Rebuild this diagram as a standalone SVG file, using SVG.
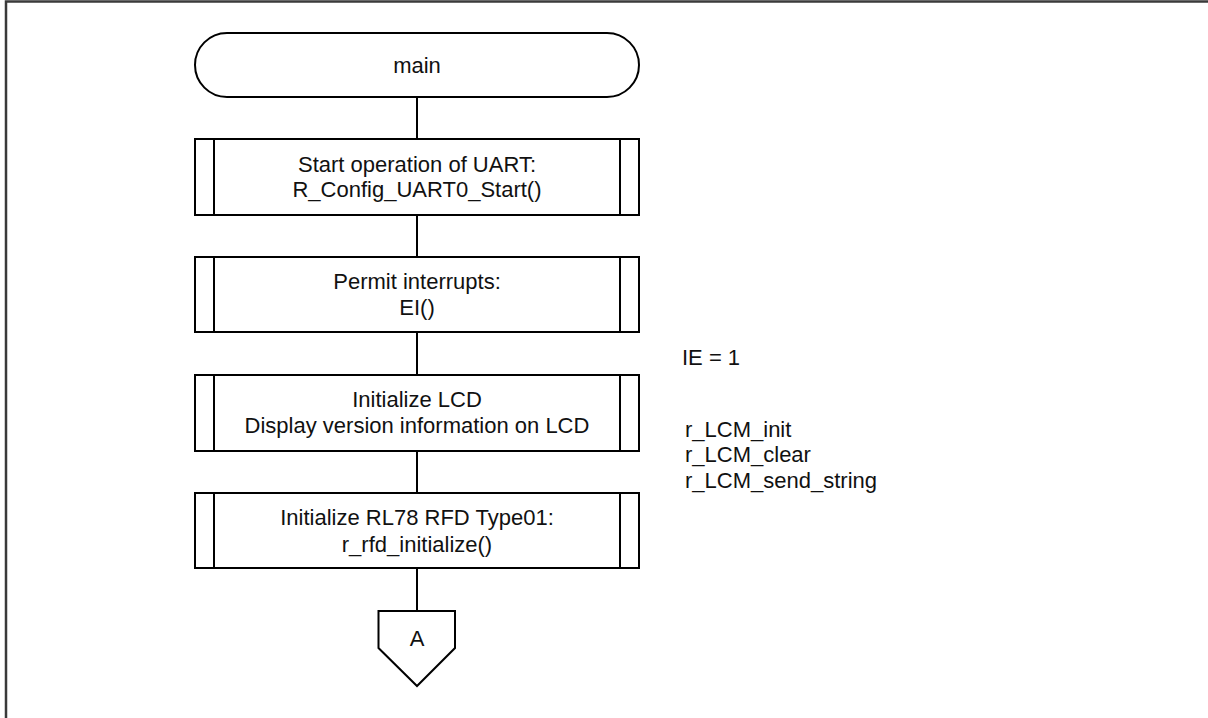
<svg xmlns="http://www.w3.org/2000/svg" width="1208" height="718" viewBox="0 0 1208 718">
  <style>
    .shape { fill: #ffffff; stroke: #000000; stroke-width: 2; }
    .bar { fill: none; stroke: #000000; stroke-width: 2; }
    .flow { fill: none; stroke: #000000; stroke-width: 2; }
    .frame { fill: none; stroke: #3a3a3a; stroke-width: 2.5; }
    text { font-family: "Liberation Sans", Arial, sans-serif; font-size: 22px; fill: #111111; }
    .c { text-anchor: middle; }
  </style>

  <rect width="1208" height="718" fill="#ffffff"/>

  <!-- page frame (top and left edges) -->
  <path class="frame" d="M6,718 V1.5 H1208"/>

  <!-- flow lines -->
  <g id="connectors">
    <line class="flow" x1="417" y1="97" x2="417" y2="139"/>
    <line class="flow" x1="417" y1="215" x2="417" y2="257"/>
    <line class="flow" x1="417" y1="332" x2="417" y2="375"/>
    <line class="flow" x1="417" y1="451" x2="417" y2="493"/>
    <line class="flow" x1="417" y1="568" x2="417" y2="611"/>
  </g>

  <!-- start terminal -->
  <g id="main">
    <rect class="shape" x="195" y="33" width="444" height="64" rx="32" ry="32"/>
    <text class="c" x="417" y="73">main</text>
  </g>

  <!-- predefined process: UART start -->
  <g id="uart-start">
    <rect class="shape" x="195" y="139" width="444" height="76"/>
    <line class="bar" x1="214" y1="139" x2="214" y2="215"/>
    <line class="bar" x1="620" y1="139" x2="620" y2="215"/>
    <text class="c" x="417" y="172">Start operation of UART:</text>
    <text class="c" x="417" y="197">R_Config_UART0_Start()</text>
  </g>

  <!-- predefined process: enable interrupts -->
  <g id="enable-interrupts">
    <rect class="shape" x="195" y="257" width="444" height="75"/>
    <line class="bar" x1="214" y1="257" x2="214" y2="332"/>
    <line class="bar" x1="620" y1="257" x2="620" y2="332"/>
    <text class="c" x="417" y="289">Permit interrupts:</text>
    <text class="c" x="417" y="315">EI()</text>
  </g>

  <!-- predefined process: LCD init -->
  <g id="lcd-init">
    <rect class="shape" x="195" y="375" width="444" height="76"/>
    <line class="bar" x1="214" y1="375" x2="214" y2="451"/>
    <line class="bar" x1="620" y1="375" x2="620" y2="451"/>
    <text class="c" x="417" y="407">Initialize LCD</text>
    <text class="c" x="417" y="433">Display version information on LCD</text>
  </g>

  <!-- predefined process: RFD init -->
  <g id="rfd-init">
    <rect class="shape" x="195" y="493" width="444" height="75"/>
    <line class="bar" x1="214" y1="493" x2="214" y2="568"/>
    <line class="bar" x1="620" y1="493" x2="620" y2="568"/>
    <text class="c" x="417" y="525">Initialize RL78 RFD Type01:</text>
    <text class="c" x="417" y="552">r_rfd_initialize()</text>
  </g>

  <!-- off-page connector A -->
  <g id="connector-a">
    <polygon class="shape" points="378.5,611 455,611 455,648 417,686 378.5,648"/>
    <text class="c" x="417" y="646">A</text>
  </g>

  <!-- side notes -->
  <g id="note-ie">
    <text x="682" y="365">IE = 1</text>
  </g>
  <g id="note-lcm">
    <text x="685" y="437">r_LCM_init</text>
    <text x="685" y="462">r_LCM_clear</text>
    <text x="685" y="488">r_LCM_send_string</text>
  </g>
</svg>
